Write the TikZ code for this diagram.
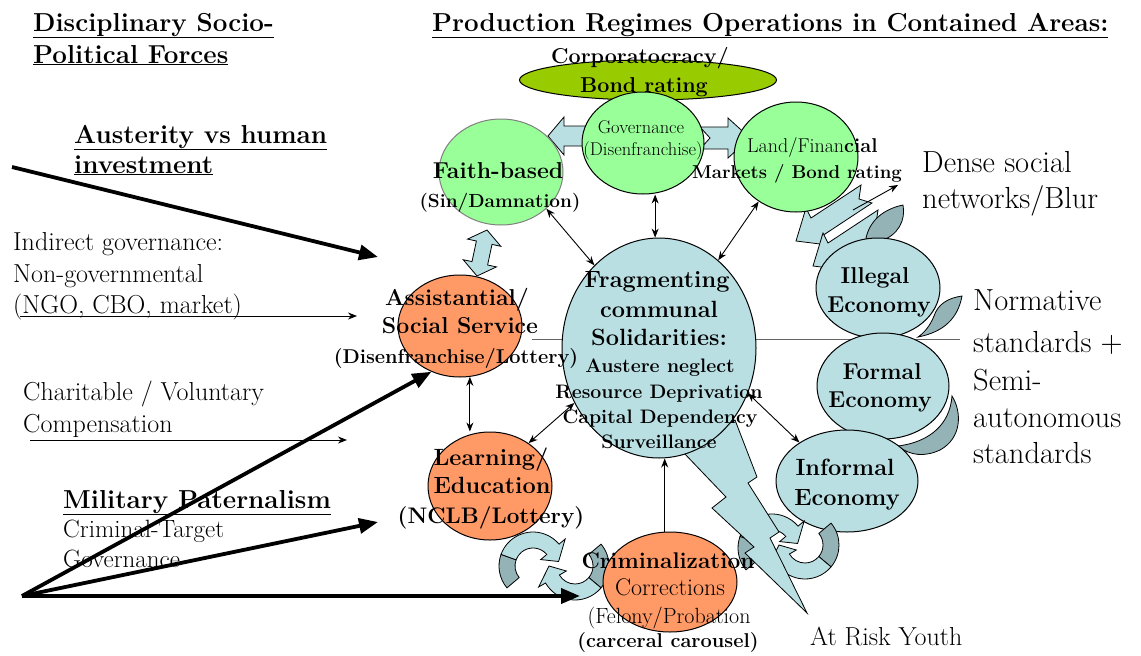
\documentclass[tikz,border=0pt]{standalone}
\usetikzlibrary{shapes.geometric,arrows.meta,calc}
\definecolor{lgreen}{RGB}{153,255,153}
\definecolor{olivegr}{RGB}{153,204,0}
\definecolor{orng}{RGB}{255,153,102}
\definecolor{lblue}{RGB}{185,223,227}
\definecolor{dteal}{RGB}{148,179,183}
\definecolor{grline}{RGB}{100,100,100}
\newcommand{\fsz}[1]{\fontsize{#1}{#1}\selectfont}
\begin{document}
\begin{tikzpicture}[x=1pt,y=-1pt,
 circ/.style={ellipse,draw=black,line width=1pt,inner sep=0pt},
 txt/.style={inner sep=0pt,anchor=base},
 txtl/.style={inner sep=0pt,anchor=base west},
 dbl/.style={{Stealth[length=9pt,width=7pt]}-{Stealth[length=9pt,width=7pt]},line width=0.9pt},
 sgl/.style={-{Stealth[length=9pt,width=7pt]},line width=0.9pt},
 heavy/.style={-{Triangle[length=19pt,width=15pt]},line width=3.8pt},
 blk/.style={fill=lblue,draw=black,line width=0.8pt},
 back/.style={fill=dteal,draw=black,line width=0.8pt},
 ttl/.style={txtl,font=\bfseries\fsz{26}},
 lft/.style={txtl,font=\fsz{26}},
 rgt/.style={txtl,font=\fsz{30.5}},
]
\useasboundingbox (0,0) rectangle (1141,656);
\fill[white] (0,0) rectangle (1141,656);

% gray horizontal line
\coordinate (glA) at (532,339);
\coordinate (glB) at (960,339);
\draw[grline,line width=1pt] (glA) -- (glB);

% block arrows
\path[blk] (548,136) -- (564,117) -- (564,126) -- (600,126) -- (592,136) -- (600,146) -- (564,146) -- (564,155) -- cycle;
\path[blk] (700,127) -- (728,127) -- (728,118) -- (750,138) -- (728,158) -- (728,149) -- (700,149) -- (710,138) -- cycle;
\path[blk] (487,230) -- (500.8,246.3) -- (492,244.4) -- (487.6,265) -- (496.4,266.9) -- (477,276) -- (463.2,259.7) -- (472,261.6) -- (476.4,241) -- (467.6,239.1) -- cycle;
\path[blk] (796,241) -- (828,245) -- (822,236) -- (872,203) -- (859,199) -- (861,185) -- (811,218) -- (806,208) -- cycle;
\path[blk] (813,266) -- (845,270) -- (839,261) -- (889,228) -- (876,224) -- (878,210) -- (828,243) -- (823,233) -- cycle;

% crescents (backs of ribbons)
\path[back] (866,238) .. controls (870,220) and (884,209) .. (903,205) .. controls (906,220) and (898,236) .. (880,241) .. controls (874,242) and (869,241) .. cycle;
\path[back] (918,337) .. controls (944,332) and (958,318) .. (962,296) .. controls (948,298) and (938,304) .. (934,316) .. controls (930,326) and (924,333) .. cycle;
\path[back] (898,446) .. controls (930,442) and (950,424) .. (952,396) .. controls (962,412) and (962,438) .. (940,450) .. controls (925,457) and (910,456) .. cycle;

% circles
\node[circ,fill=olivegr,minimum width=257pt,minimum height=40pt] (corp) at (648,80) {};
\node[circ,fill=lgreen,minimum width=122pt,minimum height=102pt] (gov) at (643,143) {};
\node[circ,fill=lgreen,draw=gray,minimum width=124pt,minimum height=106pt] (faith) at (501,172) {};
\node[circ,fill=lgreen,minimum width=124pt,minimum height=110pt] (land) at (796,157) {};
\node[circ,fill=orng,minimum width=124pt,minimum height=102pt] (assist) at (460,326) {};
\node[circ,fill=orng,minimum width=124pt,minimum height=108pt] (learn) at (490,486) {};
\node[circ,fill=lblue,minimum width=124pt,minimum height=100pt] (illegal) at (878,288) {};
\node[circ,fill=lblue,minimum width=132pt,minimum height=106pt] (formal) at (883,386) {};
\node[circ,fill=lblue,minimum width=142pt,minimum height=102pt] (informal) at (847,481) {};

% circular arrows near informal
\begin{scope}[shift={(772,548)}]
 \path[back] (140:34) arc[start angle=140,end angle=200,radius=34] -- (200:18) arc[start angle=200,end angle=140,radius=18] -- cycle;
 \path[blk] (200:34) arc[start angle=200,end angle=320,radius=34] -- (320:42) -- (350:26) -- (320:10) -- (320:18) arc[start angle=320,end angle=200,radius=18] -- cycle;
\end{scope}
\begin{scope}[shift={(805,545)}]
 \path[back] (-40:34) arc[start angle=-40,end angle=40,radius=34] -- (40:18) arc[start angle=40,end angle=-40,radius=18] -- cycle;
 \path[blk] (40:34) arc[start angle=40,end angle=150,radius=34] -- (150:42) -- (180:26) -- (150:10) -- (150:18) arc[start angle=150,end angle=40,radius=18] -- cycle;
\end{scope}
% circular arrows near criminalization
\begin{scope}[shift={(533,566)}]
 \path[back] (140:34) arc[start angle=140,end angle=200,radius=34] -- (200:18) arc[start angle=200,end angle=140,radius=18] -- cycle;
 \path[blk] (200:34) arc[start angle=200,end angle=320,radius=34] -- (320:42) -- (350:26) -- (320:10) -- (320:18) arc[start angle=320,end angle=200,radius=18] -- cycle;
\end{scope}
\begin{scope}[shift={(575,566)}]
 \path[back] (-40:34) arc[start angle=-40,end angle=40,radius=34] -- (40:18) arc[start angle=40,end angle=-40,radius=18] -- cycle;
 \path[blk] (40:34) arc[start angle=40,end angle=150,radius=34] -- (150:42) -- (180:26) -- (150:10) -- (150:18) arc[start angle=150,end angle=40,radius=18] -- cycle;
\end{scope}

% lightning bolt
\path[blk] (683,452) -- (726,497) -- (712,508) -- (754,547) -- (745,553) -- (807,613) -- (770,538) -- (779,532) -- (748,483) -- (757,477) -- (735,420) -- cycle;

\node[circ,fill=lblue,minimum width=194pt,minimum height=220pt] (frag) at (659,348) {};
\node[circ,fill=orng,minimum width=134pt,minimum height=100pt] (crim) at (670,582) {};

% thin connectors
\draw[dbl] (faith.-39) -- (frag.128);
\draw[dbl] (frag.92) -- (frag.92 |- gov.south);
\draw[dbl] (land.-130) -- (frag.56);
\draw[dbl] (assist.-79) -- (assist.-79 |- learn.north);
\draw[dbl] (frag.-147) -- (learn.48);
\draw[dbl] (frag.-27) -- (informal.141);
\draw[sgl] (crim.96) -- (crim.96 |- frag.south);
\coordinate (dsS) at (853,210);
\coordinate (dsE) at (898,185);
\draw[sgl] (dsS) -- (dsE);

% node texts
\node[txt,font=\bfseries\fsz{21.5}] (corpA) at (640,63) {Corporatocracy/};
\node[txt,font=\bfseries\fsz{21.5}] (corpB) at (644,92) {Bond rating};
\node[txt,font=\fsz{18.5}] (govA) at (641,133) {Governance};
\node[txt,font=\fsz{18.5}] (govB) at (643,155) {(Disenfranchise)};
\node[txt,font=\bfseries\fsz{23}] (faithA) at (498,178) {Faith-based};
\node[txt,font=\bfseries\fsz{19}] (faithB) at (500,207) {(Sin/Damnation)};
\node[txtl,font=\fsz{20}] (landA) at (747,152) {Land/Finan\textbf{cial}};
\node[txt,font=\bfseries\fsz{18.6}] (landB) at (797,178) {Markets / Bond rating};
\node[txt,font=\bfseries\fsz{23.5}] (fragA) at (657,287) {Fragmenting};
\node[txt,font=\bfseries\fsz{23.5}] (fragB) at (659,317) {communal};
\node[txt,font=\bfseries\fsz{23.5}] (fragC) at (659,345) {Solidarities:};
\node[txt,font=\bfseries\fsz{19.5}] (fragD) at (660,372) {Austere neglect};
\node[txt,font=\bfseries\fsz{19.5}] (fragE) at (659,398) {Resource Deprivation};
\node[txt,font=\bfseries\fsz{19.5}] (fragF) at (660,423) {Capital Dependency};
\node[txt,font=\bfseries\fsz{19.5}] (fragG) at (659,448) {Surveillance};
\node[txt,font=\bfseries\fsz{23}] (assistA) at (457,305) {Assistantial/};
\node[txt,font=\bfseries\fsz{23}] (assistB) at (460,333) {Social Service};
\node[txt,font=\bfseries\fsz{20}] (assistC) at (456,363) {(Disenfranchise/Lottery)};
\node[txt,font=\bfseries\fsz{23.5}] (learnA) at (491,465) {Learning/};
\node[txt,font=\bfseries\fsz{23.5}] (learnB) at (492,493) {Education};
\node[txt,font=\bfseries\fsz{22.5}] (learnC) at (491,523) {(NCLB/Lottery)};
\node[txt,font=\bfseries\fsz{22.7}] (crimA) at (668,568) {Criminalization};
\node[txt,font=\fsz{24}] (crimB) at (670,595) {Corrections};
\node[txt,font=\fsz{22}] (crimC) at (669,623) {(Felony/Probation};
\node[txt,font=\bfseries\fsz{20}] (crimD) at (668,647) {(carceral carousel)};
\node[txt,font=\bfseries\fsz{23}] (illegalA) at (875,283) {Illegal};
\node[txt,font=\bfseries\fsz{23}] (illegalB) at (879,312) {Economy};
\node[txt,font=\bfseries\fsz{23}] (formalA) at (882,379) {Formal};
\node[txt,font=\bfseries\fsz{23}] (formalB) at (880,407) {Economy};
\node[txt,font=\bfseries\fsz{23.5}] (informalA) at (845,475) {Informal};
\node[txt,font=\bfseries\fsz{23.5}] (informalB) at (847,505) {Economy};

% free texts
\node[ttl] (t1) at (33,31) {\underline{Disciplinary Socio-}};
\node[ttl] (t2) at (33,63) {\underline{Political Forces}};
\node[ttl] (t3) at (432,31) {\underline{Production Regimes Operations in Contained Areas:}};
\node[ttl] (t4) at (74,143) {\underline{Austerity vs human}};
\node[ttl] (t5) at (74,173) {\underline{investment}};
\node[lft] (t6) at (13,250) {Indirect governance:};
\node[lft] (t7) at (13,282) {Non-governmental};
\node[lft] (t8) at (13,313) {(NGO, CBO, market)};
\node[lft] (t9) at (23,400) {Charitable / Voluntary};
\node[lft] (t10) at (23,432) {Compensation};
\node[ttl] (t11) at (63,508) {\underline{Military Paternalism}};
\node[txtl,font=\fsz{25}] (t12) at (63,537) {Criminal-Target};
\node[txtl,font=\fsz{25}] (t13) at (63,567) {Governance};
\node[rgt] (r1) at (922,172) {Dense social};
\node[rgt] (r2) at (922,208) {networks/Blur};
\node[rgt] (r3) at (973,310) {Normative};
\node[rgt] (r4) at (973,352) {standards +};
\node[rgt] (r5) at (973,390) {Semi-};
\node[rgt] (r6) at (973,427) {autonomous};
\node[rgt] (r7) at (973,463) {standards};
\node[txtl,font=\fsz{26}] (r8) at (810,645) {At Risk Youth};

% left arrows
\coordinate (austS) at (12,167);
\coordinate (austE) at (378,257);
\draw[heavy] (austS) -- (austE);
\coordinate (ngoS) at (20,316);
\coordinate (ngoE) at (357,316);
\draw[sgl] (ngoS) -- (ngoE);
\coordinate (chS) at (30,440);
\coordinate (chE) at (347,440);
\draw[sgl] (chS) -- (chE);
\coordinate (mil) at (22,596);
\coordinate (milL) at (378,522);
\coordinate (milC) at (580,596);
\draw[heavy] (mil) -- (assist.-122);
\draw[heavy] (mil) -- (milL);
\draw[heavy] (mil) -- (milC);
\end{tikzpicture}
\end{document}
